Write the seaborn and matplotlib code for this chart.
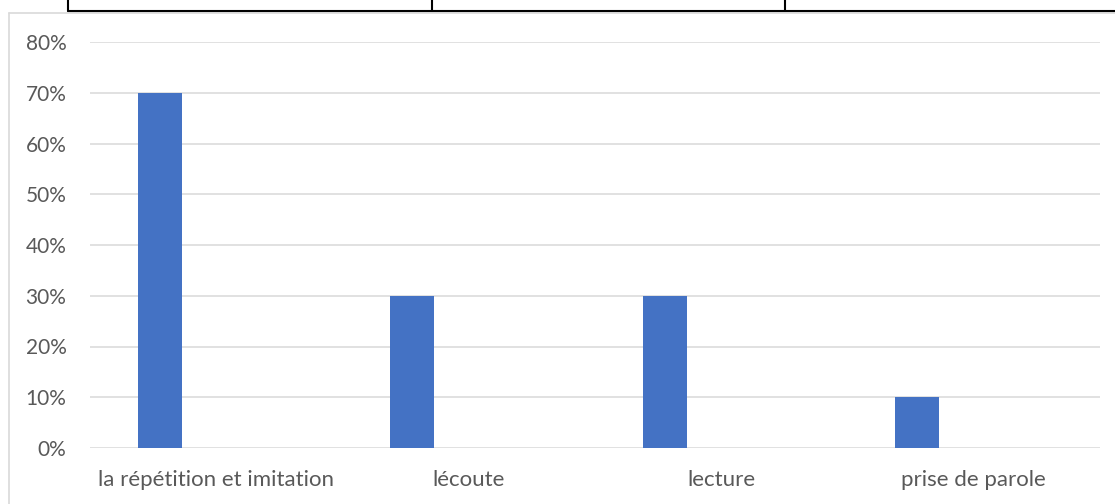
import matplotlib
matplotlib.use("Agg")
import matplotlib.pyplot as plt
from matplotlib.lines import Line2D
from matplotlib.ticker import PercentFormatter
import seaborn as sns
import pandas as pd
import numpy as np

categories = ["la répétition et imitation", "lécoute", "lecture", "prise de parole"]
series1 = [0.70, 0.30, 0.30, 0.10]
series_names = ["Série 1", "Série 2", "Série 3"]
# Series 2 and 3 exist in the source chart but are empty
series2 = [np.nan, np.nan, np.nan, np.nan]
series3 = [np.nan, np.nan, np.nan, np.nan]
y_ticks = [0, 0.1, 0.2, 0.3, 0.4, 0.5, 0.6, 0.7, 0.8]

df = pd.DataFrame({
    "cat": categories * 3,
    "val": series1 + series2 + series3,
    "serie": [series_names[0]] * 4 + [series_names[1]] * 4 + [series_names[2]] * 4,
})

sns.set_theme(style="white")
plt.rcParams["font.family"] = ["Lato", "DejaVu Sans"]

fig = plt.figure(figsize=(11.15, 5.04), dpi=100)
W, H = 1115, 504
ax = fig.add_axes([90 / W, (H - 448) / H, (1100 - 90) / W, (448 - 42) / H])

sns.barplot(data=df, x="cat", y="val", hue="serie", order=categories,
            hue_order=series_names, palette=["#4472C4", "#ED7D31", "#A5A5A5"],
            width=0.669, gap=0.22, dodge=True, ax=ax, legend=False,
            errorbar=None, saturation=1, linewidth=0)

ax.set_ylim(0, 0.8)
ax.set_xlim(-0.5, 3.5)
ax.set_yticks(y_ticks)
ax.yaxis.set_major_formatter(PercentFormatter(1.0, decimals=0))
ax.grid(axis="y", color="#d9d9d9", linewidth=1.1)
ax.set_axisbelow(True)
for s in ax.spines.values():
    s.set_visible(False)
ax.set_xlabel("")
ax.set_ylabel("")
ax.tick_params(axis="y", length=0, pad=17, labelsize=15, labelcolor="#595959")
ax.tick_params(axis="x", length=0, pad=16, labelsize=16, labelcolor="#595959")

# chart area frame (light gray)
fig.add_artist(Line2D([9 / W, 9 / W], [0, 1 - 13 / H], color="#d9d9d9", lw=1.2, transform=fig.transFigure))
fig.add_artist(Line2D([9 / W, 1], [1 - 13 / H, 1 - 13 / H], color="#d9d9d9", lw=1.2, transform=fig.transFigure))
# table borders above
fig.add_artist(Line2D([68 / W, 1], [1 - 11 / H, 1 - 11 / H], color="black", lw=1.5, transform=fig.transFigure))
for xv in [68, 432, 785]:
    fig.add_artist(Line2D([xv / W, xv / W], [1, 1 - 11 / H], color="black", lw=1.5, transform=fig.transFigure))

fig.savefig("out.png", dpi=100)
